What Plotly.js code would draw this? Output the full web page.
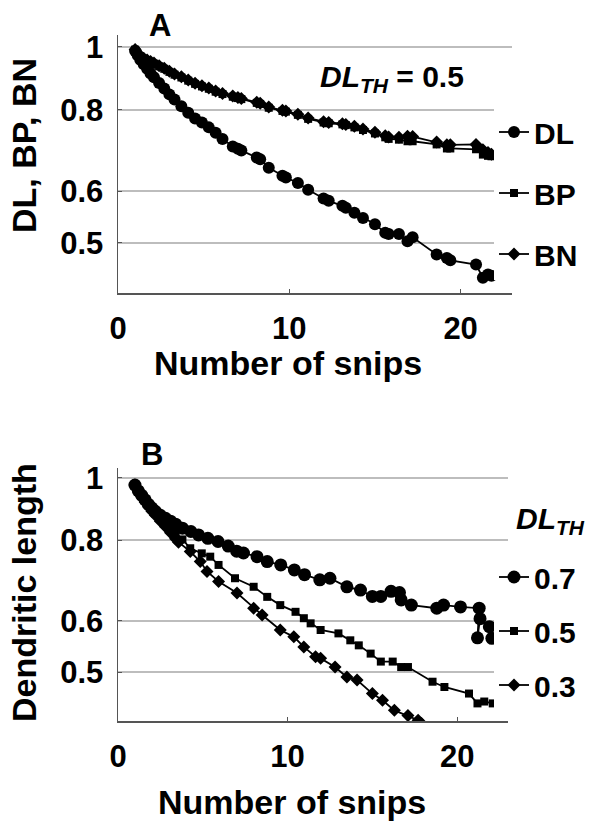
<!DOCTYPE html>
<html>
<head>
<meta charset="utf-8">
<script src="https://cdn.plot.ly/plotly-3.0.1.min.js"></script>
<style>html,body{margin:0;padding:0;background:#fff;}#chart{width:600px;height:830px;}</style>
</head>
<body>
<div id="chart"></div>
<script>
// ---------- Panel A data (DL_TH = 0.5) ----------
const snipsA = [1.0,1.15,1.3,1.5,1.7,1.9,2.1,2.4,2.7,3.0,3.3,3.7,4.1,4.5,4.9,5.3,5.7,6.1,6.7,7.0,7.2,8.1,8.3,8.8,9.6,9.8,10.5,11.1,12.0,12.3,13.1,13.3,13.8,14.3,15.0,15.6,15.8,16.4,16.9,17.2,18.6,19.2,19.4,20.9,21.3,21.6,21.8];
const dlA = [0.985,0.97,0.955,0.94,0.925,0.91,0.898,0.88,0.863,0.845,0.83,0.81,0.792,0.776,0.765,0.752,0.738,0.722,0.703,0.697,0.693,0.676,0.672,0.652,0.634,0.63,0.618,0.603,0.585,0.58,0.57,0.566,0.556,0.546,0.534,0.518,0.516,0.516,0.503,0.51,0.48,0.474,0.47,0.463,0.442,0.447,0.445];
const bpA = [0.99,0.975,0.965,0.958,0.952,0.947,0.942,0.933,0.925,0.915,0.906,0.897,0.887,0.877,0.869,0.862,0.853,0.846,0.838,0.834,0.831,0.82,0.817,0.806,0.797,0.795,0.786,0.775,0.765,0.763,0.76,0.758,0.752,0.745,0.736,0.726,0.722,0.72,0.716,0.716,0.708,0.698,0.698,0.696,0.683,0.68,0.679];
const bnA = [0.99,0.977,0.967,0.96,0.954,0.949,0.944,0.935,0.927,0.917,0.908,0.899,0.889,0.879,0.871,0.864,0.855,0.848,0.84,0.836,0.833,0.822,0.819,0.808,0.799,0.797,0.788,0.777,0.767,0.765,0.762,0.76,0.755,0.748,0.739,0.73,0.727,0.726,0.729,0.728,0.714,0.707,0.707,0.708,0.695,0.688,0.684];

// ---------- Panel B data (dendritic length for three thresholds) ----------
const x07 = [1.0,1.2,1.4,1.6,1.8,2.0,2.2,2.5,2.8,3.1,3.4,3.8,4.3,4.75,5.3,5.9,6.5,7.0,7.4,8.2,8.8,9.6,10.4,11.0,11.9,12.5,13.5,14.3,15.0,15.5,16.1,16.6,16.7,17.3,18.8,19.2,20.2,21.3,21.2,21.35,21.9,22.05];
const y07 = [0.975,0.955,0.94,0.925,0.91,0.898,0.888,0.875,0.866,0.857,0.848,0.836,0.826,0.816,0.806,0.797,0.784,0.77,0.765,0.755,0.742,0.733,0.72,0.708,0.695,0.699,0.678,0.67,0.655,0.655,0.667,0.664,0.647,0.635,0.628,0.635,0.631,0.628,0.565,0.605,0.588,0.564];
const x05 = [1.0,1.2,1.4,1.6,1.8,2.0,2.2,2.5,2.8,3.1,3.4,3.8,4.26,4.94,5.44,5.93,6.9,8.0,8.8,9.57,10.47,10.96,11.36,11.95,13.0,13.7,14.2,14.9,15.5,16.2,16.7,17.1,18.55,19.25,20.7,21.2,21.6,22.1];
const y05 = [0.975,0.955,0.938,0.922,0.907,0.894,0.882,0.866,0.851,0.837,0.822,0.803,0.778,0.764,0.755,0.733,0.699,0.678,0.654,0.635,0.62,0.606,0.595,0.581,0.574,0.56,0.55,0.534,0.519,0.519,0.509,0.509,0.483,0.474,0.463,0.447,0.45,0.447];
const x03 = [1.0,1.2,1.4,1.6,1.8,2.0,2.2,2.5,2.8,3.1,3.4,3.57,4.26,4.85,5.25,5.93,7.02,8.0,8.5,9.57,10.37,10.96,11.65,11.95,12.8,13.5,14.1,15.0,15.6,16.3,17.1,17.7,17.9];
const y03 = [0.975,0.953,0.935,0.918,0.902,0.888,0.875,0.857,0.84,0.822,0.805,0.795,0.769,0.742,0.716,0.691,0.663,0.628,0.613,0.581,0.567,0.547,0.528,0.525,0.509,0.491,0.486,0.463,0.452,0.436,0.428,0.421,0.416];

const yTicks = [0.5,0.6,0.8,1];
const yTickText = ['0.5','0.6','0.8','1'];
const xTicks = [0,10,20];
const xTickText = ['0','10','20'];
const namesA = ['DL','BP','BN'];
const namesB = ['0.7','0.5','0.3'];

const FONT = 'Liberation Sans, Arial, Helvetica, sans-serif';
const W = 600, H = 830;
const px = v => v / W;
const py = v => 1 - v / H;
const b = s => '<b>' + s + '</b>';

function tr(x, y, name, sym, size, xa, ya, leg, grp) {
  return {
    type: 'scatter', mode: 'lines+markers', x: x, y: y, name: b(name),
    xaxis: xa, yaxis: ya, legend: leg, legendgroup: grp,
    line: {color: '#000', width: 1.8},
    marker: {symbol: sym, size: size, color: '#000'}
  };
}

const data = [
  tr(snipsA, dlA, namesA[0], 'circle', 12, 'x', 'y', 'legend', 'a1'),
  tr(snipsA, bpA, namesA[1], 'square', 8, 'x', 'y', 'legend', 'a2'),
  tr(snipsA, bnA, namesA[2], 'diamond', 10, 'x', 'y', 'legend', 'a3'),
  tr(x07, y07, namesB[0], 'circle', 13, 'x2', 'y2', 'legend2', 'b1'),
  tr(x05, y05, namesB[1], 'square', 8, 'x2', 'y2', 'legend2', 'b2'),
  tr(x03, y03, namesB[2], 'diamond', 10, 'x2', 'y2', 'legend2', 'b3')
];

const tickFont = {family: FONT, size: 31, color: '#000', weight: 'bold'};
function xax(dom, anchor) {
  return {domain: dom, anchor: anchor, range: [0, 23], tickvals: xTicks, ticktext: xTickText.map(b),
    ticks: 'inside', ticklen: 4, tickcolor: '#555', showline: true, linecolor: '#555', linewidth: 1.5,
    showgrid: false, zeroline: false, tickfont: tickFont, ticklabelstandoff: 7, fixedrange: true};
}
function yax(dom, anchor, rng) {
  return {domain: dom, anchor: anchor, type: 'log', range: rng, tickvals: yTicks, ticktext: yTickText.map(b),
    ticks: 'inside', ticklen: 4, tickcolor: '#555', showline: true, linecolor: '#555', linewidth: 1.5,
    showgrid: true, gridcolor: '#bdbdbd', gridwidth: 2, zeroline: false, tickfont: tickFont,
    ticklabelstandoff: 7, fixedrange: true};
}

const ann = (x, y, text, size, extra) => Object.assign({
  xref: 'paper', yref: 'paper', x: px(x), y: py(y), text: b(text), showarrow: false,
  font: {family: FONT, size: size, color: '#000', weight: 'bold'}, xanchor: 'center', yanchor: 'middle'
}, extra || {});

const legFont = {family: FONT, size: 30, color: '#000', weight: 'bold'};
const layout = {
  width: W, height: H, margin: {l: 0, r: 0, t: 0, b: 0},
  paper_bgcolor: '#fff', plot_bgcolor: '#fff',
  font: {family: FONT, color: '#000', weight: 'bold'},
  showlegend: true,
  xaxis: xax([px(118), px(512)], 'y'),
  yaxis: yax([py(293), py(35)], 'x', [-0.378, 0.018]),
  xaxis2: xax([px(118), px(508)], 'y2'),
  yaxis2: yax([py(721), py(468)], 'x2', [-0.377, 0.0155]),
  legend: {x: px(494), y: py(106), xanchor: 'left', yanchor: 'top', bgcolor: '#fff',
    font: legFont, traceorder: 'grouped', tracegroupgap: 19, itemwidth: 30},
  legend2: {x: px(494), y: py(551), xanchor: 'left', yanchor: 'top', bgcolor: '#fff',
    font: legFont, traceorder: 'grouped', tracegroupgap: 12, itemwidth: 30},
  annotations: [
    ann(160, 26, 'A', 31),
    ann(152, 454, 'B', 31),
    ann(392, 78, '<i>DL<sub>TH</sub></i> = 0.5', 30),
    ann(514, 520, '<i>DL<sub>TH</sub></i>', 30, {xanchor: 'left'}),
    ann(24, 146, 'DL, BP, BN', 34, {textangle: -90}),
    ann(24, 593, 'Dendritic length', 34, {textangle: -90}),
    ann(288, 363, 'Number of snips', 34),
    ann(292, 802, 'Number of snips', 34)
  ]
};

Plotly.newPlot('chart', data, layout, {displayModeBar: false, staticPlot: true});
</script>
</body>
</html>
